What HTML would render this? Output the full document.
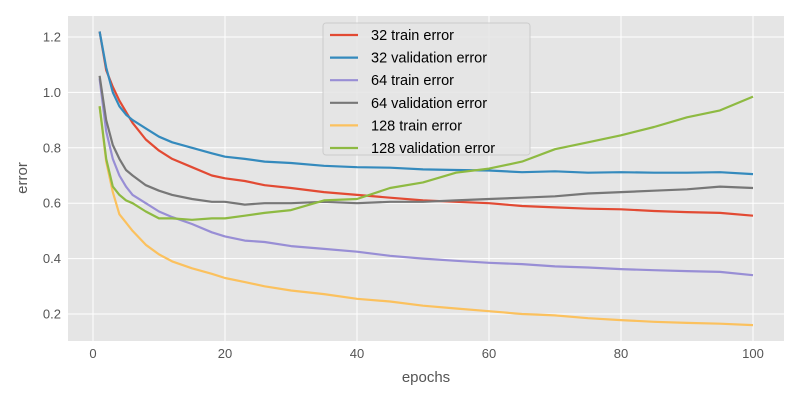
<!DOCTYPE html>
<html><head><meta charset="utf-8"><style>
body{margin:0;background:#fff;}
svg{font-family:"Liberation Sans","DejaVu Sans",sans-serif;}
</style></head><body>
<svg id="chart" width="800" height="400" viewBox="0 0 800 400" xmlns="http://www.w3.org/2000/svg">
<rect x="68" y="16" width="716" height="325" fill="#E5E5E5"/>
<g id="grid"></g><g id="series"></g><g id="ticks"></g>
<text x="426" y="382" text-anchor="middle" font-size="15" fill="#555">epochs</text>
<text x="27" y="178" text-anchor="middle" font-size="15" fill="#555" transform="rotate(-90 27 178)">error</text>
<g id="legend"></g>
</svg>
<script>
const epochs=[1,2,3,4,5,6,8,10,12,15,18,20,23,26,30,35,40,45,50,55,60,65,70,75,80,85,90,95,100];
const train32=[1.22,1.08,1.02,0.97,0.93,0.89,0.83,0.79,0.76,0.73,0.70,0.69,0.68,0.665,0.655,0.64,0.63,0.62,0.61,0.605,0.60,0.59,0.585,0.58,0.578,0.572,0.568,0.565,0.555];
const val32=[1.22,1.09,1.00,0.95,0.92,0.90,0.87,0.84,0.82,0.80,0.78,0.768,0.76,0.75,0.745,0.735,0.73,0.728,0.722,0.72,0.718,0.712,0.715,0.71,0.712,0.71,0.71,0.712,0.705];
const train64=[1.05,0.86,0.76,0.70,0.66,0.63,0.60,0.57,0.55,0.525,0.495,0.48,0.465,0.46,0.445,0.435,0.425,0.41,0.40,0.392,0.385,0.38,0.372,0.368,0.362,0.358,0.355,0.352,0.34];
const val64=[1.06,0.90,0.81,0.76,0.72,0.70,0.665,0.645,0.63,0.615,0.605,0.605,0.595,0.60,0.60,0.605,0.60,0.605,0.605,0.61,0.615,0.62,0.625,0.635,0.64,0.645,0.65,0.66,0.655];
const train128=[0.95,0.75,0.64,0.56,0.53,0.50,0.45,0.415,0.39,0.365,0.345,0.33,0.315,0.30,0.285,0.272,0.255,0.245,0.23,0.22,0.21,0.20,0.195,0.185,0.178,0.172,0.168,0.165,0.16];
const val128=[0.95,0.76,0.66,0.63,0.61,0.60,0.57,0.545,0.545,0.54,0.545,0.545,0.555,0.565,0.575,0.61,0.615,0.655,0.675,0.71,0.725,0.75,0.795,0.82,0.845,0.875,0.91,0.935,0.985];
const seriesNames=["32 train error","32 validation error","64 train error","64 validation error","128 train error","128 validation error"];
const xTicks=[0,20,40,60,80,100];
const yTicks=[0.2,0.4,0.6,0.8,1.0,1.2];

const NS="http://www.w3.org/2000/svg";
const colors=["#E24A33","#348ABD","#988ED5","#777777","#FBC15E","#8EBA42"];
const allSeries=[train32,val32,train64,val64,train128,val128];
function xs(e){return 93+e*6.6;}
function ys(v){return 314-(v-0.2)*277;}
function mk(tag,attrs,parent){const el=document.createElementNS(NS,tag);for(const k in attrs)el.setAttribute(k,attrs[k]);parent.appendChild(el);return el;}
const grid=document.getElementById('grid'),ticks=document.getElementById('ticks'),ser=document.getElementById('series'),leg=document.getElementById('legend');
xTicks.forEach(t=>{
  const l=mk('line',{x1:xs(t),x2:xs(t),y1:16,y2:341,stroke:'#fff','stroke-width':1},grid);
  
  
  const tx=mk('text',{x:xs(t),y:358,'text-anchor':'middle','font-size':13,fill:'#555'},ticks);
  tx.textContent=t;
  
  
});
yTicks.forEach(t=>{
  const l=mk('line',{x1:68,x2:784,y1:ys(t),y2:ys(t),stroke:'#fff','stroke-width':1},grid);
  
  
  const tx=mk('text',{x:61,y:ys(t)+4.5,'text-anchor':'end','font-size':13,fill:'#555'},ticks);
  tx.textContent=t.toFixed(1);
  
  
});
allSeries.forEach((s,i)=>{
  const pts=s.map((v,j)=>xs(epochs[j]).toFixed(1)+','+ys(v).toFixed(1)).join(' ');
  const p=mk('polyline',{points:pts,fill:'none',stroke:colors[i],'stroke-width':2.2,'stroke-linejoin':'round'},ser);
  
  
});
const box=mk('rect',{x:323,y:23,width:207,height:132,rx:3,fill:'#E5E5E5','fill-opacity':0.85,stroke:'#ccc','stroke-width':1},leg);


seriesNames.forEach((n,i)=>{
  const y=35+i*22.6;
  const l=mk('line',{x1:330,x2:358,y1:y,y2:y,stroke:colors[i],'stroke-width':2.2},leg);
  
  
  const t=mk('text',{x:371,y:y+5,'font-size':14.5,fill:'#000'},leg);
  t.textContent=n;
  
  
});
</script>
</body></html>
